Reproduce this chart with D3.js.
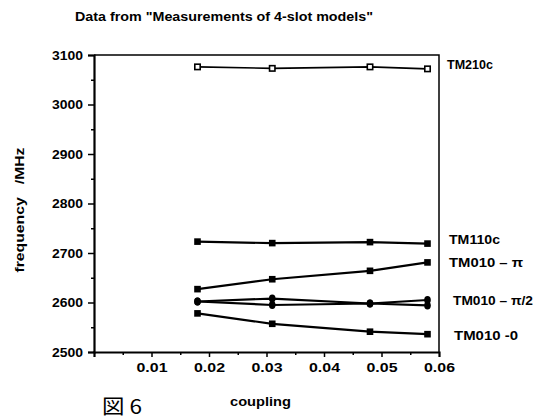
<!DOCTYPE html>
<html>
<head>
<meta charset="utf-8">
<script src="https://cdn.jsdelivr.net/npm/d3@7"></script>
<style>
  body { margin: 0; background: #fff; }
  text { font-family: "Liberation Sans", Arial, sans-serif; font-weight: bold; fill: #000; }
</style>
</head>
<body>
<svg id="chart" width="536" height="419"></svg>
<script>
// data
var coupling = [0.018, 0.031, 0.048, 0.058];
var tm210c = [3076, 3073, 3076, 3072];
var tm110c = [2723, 2720, 2722, 2719];
var tm010pi = [2627, 2647, 2664, 2681];
var tm010half1 = [2602, 2608, 2598, 2605];
var tm010half2 = [2602, 2595, 2598, 2594];
var tm010zero = [2578, 2557, 2541, 2536];
var xTicks = [0.01, 0.02, 0.03, 0.04, 0.05, 0.06];
var yTicks = [2500, 2600, 2700, 2800, 2900, 3000, 3100];

var series = [
  { name: "TM210c", values: tm210c, marker: "open", label: "TM210c" },
  { name: "TM110c", values: tm110c, marker: "square", label: "TM110c" },
  { name: "pi", values: tm010pi, marker: "square", label: "TM010 \u2013 \u03c0" },
  { name: "half1", values: tm010half1, marker: "dot", label: "TM010 \u2013 \u03c0/2" },
  { name: "half2", values: tm010half2, marker: "dot", label: null },
  { name: "zero", values: tm010zero, marker: "square", label: "TM010 -0" }
];

var svg = d3.select("#chart");
var pLeft = 94, pRight = 439, pTop = 55, pBottom = 352;

var x = d3.scaleLinear().domain([0, 0.06]).range([pLeft, pRight]);
var y = d3.scaleLinear().domain([2500, 3100]).range([pBottom, pTop]);

// the scan has wide lettering, so most texts get a fixed length
svg.append("text")
  .attr("x", 75).attr("y", 21)
  .attr("font-size", 12)
  .attr("textLength", 298).attr("lengthAdjust", "spacingAndGlyphs")
  .text("Data from \"Measurements of 4-slot models\"");

// frame top + right
svg.append("path")
  .attr("d", "M" + pLeft + "," + pTop + "H" + pRight + "V" + pBottom)
  .attr("fill", "none").attr("stroke", "#000").attr("stroke-width", 1.5);

// y axis
var yAxis = svg.append("g").attr("transform", "translate(" + pLeft + ",0)")
  .call(d3.axisLeft(y).tickValues(yTicks).tickSize(6).tickFormat(d3.format("d")));
svg.append("g").attr("transform", "translate(" + pLeft + ",0)")
  .call(d3.axisLeft(y).tickValues(d3.range(2550, 3100, 100)).tickSize(3).tickFormat(""))
  .call(function (g) { g.select(".domain").remove(); });

// x axis
var xAxis = svg.append("g").attr("transform", "translate(0," + pBottom + ")")
  .call(d3.axisBottom(x).tickValues(xTicks).tickSize(5).tickFormat(d3.format(".2f")));
svg.append("g").attr("transform", "translate(0," + pBottom + ")")
  .call(d3.axisBottom(x).tickValues(d3.range(0.005, 0.06, 0.01)).tickSize(3).tickFormat(""))
  .call(function (g) { g.select(".domain").remove(); });

svg.selectAll(".domain").attr("stroke-width", 2.2).attr("stroke", "#000");
svg.selectAll(".tick line").attr("stroke-width", 1.5).attr("stroke", "#000");
yAxis.selectAll("text").attr("font-size", 12.5).attr("x", -11)
  .attr("textLength", 31).attr("lengthAdjust", "spacingAndGlyphs")
  .attr("font-family", "Liberation Sans, Arial, sans-serif").attr("font-weight", "bold");
xAxis.selectAll("text").attr("font-size", 12.5).attr("y", 20).attr("dy", 0)
  .attr("textLength", 31).attr("lengthAdjust", "spacingAndGlyphs")
  .attr("font-family", "Liberation Sans, Arial, sans-serif").attr("font-weight", "bold");
xAxis.selectAll(".tick").filter(function (d) { return d === 0.06; })
  .select("line").remove();

// lines and markers
var line = d3.line()
  .x(function (d, i) { return x(coupling[i]); })
  .y(function (d) { return y(d); });

series.forEach(function (s) {
  svg.append("path")
    .datum(s.values)
    .attr("d", line)
    .attr("fill", "none")
    .attr("stroke", "#000")
    .attr("stroke-width", s.marker === "open" ? 1.6 : 2.2);
  var g = svg.append("g");
  s.values.forEach(function (v, i) {
    var cx = x(coupling[i]), cy = y(v);
    if (s.marker === "open") {
      g.append("rect").attr("x", cx - 2.7).attr("y", cy - 2.7).attr("width", 5.4).attr("height", 5.4)
        .attr("fill", "#fff").attr("stroke", "#000").attr("stroke-width", 1.6);
    } else if (s.marker === "square") {
      g.append("rect").attr("x", cx - 3.3).attr("y", cy - 3.3).attr("width", 6.6).attr("height", 6.6)
        .attr("fill", "#000");
    } else {
      g.append("ellipse").attr("cx", cx).attr("cy", cy).attr("rx", 3.3).attr("ry", 4)
        .attr("fill", "#000");
    }
  });
});

// series labels at the right
var labelPos = {
  TM210c: [447, 69, 46], TM110c: [449, 244, 51], pi: [449, 267, 74],
  half1: [453, 305, 80], zero: [454, 340, 64]
};
series.filter(function (s) { return s.label; }).forEach(function (s) {
  var p = labelPos[s.name];
  svg.append("text")
    .attr("x", p[0]).attr("y", p[1])
    .attr("font-size", 12.5)
    .attr("textLength", p[2]).attr("lengthAdjust", "spacingAndGlyphs")
    .text(s.label);
});

// axis titles
svg.append("text")
  .attr("transform", "translate(24,210) rotate(-90)")
  .attr("text-anchor", "middle")
  .attr("font-size", 12)
  .attr("textLength", 125).attr("lengthAdjust", "spacingAndGlyphs")
  .attr("xml:space", "preserve")
  .text("frequency   /MHz");

svg.append("text")
  .attr("x", 230).attr("y", 406)
  .attr("font-size", 13)
  .attr("textLength", 61).attr("lengthAdjust", "spacingAndGlyphs")
  .text("coupling");

svg.append("text")
  .attr("x", 102).attr("y", 414)
  .attr("font-size", 20)
  .attr("textLength", 40).attr("lengthAdjust", "spacingAndGlyphs")
  .style("font-weight", "normal")
  .style("font-family", "'Noto Sans CJK JP', sans-serif")
  .text("図 6");
</script>
</body>
</html>
